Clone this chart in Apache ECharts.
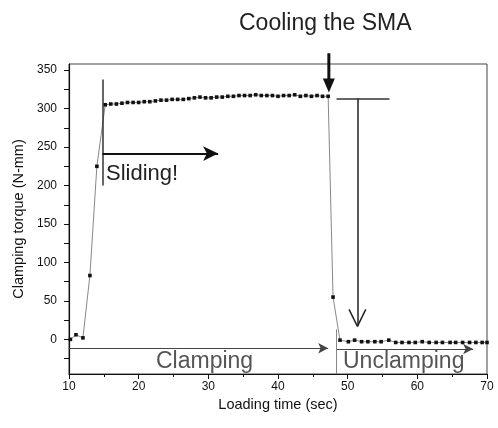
<!DOCTYPE html>
<html>
<head>
<meta charset="utf-8">
<script src="https://cdn.jsdelivr.net/npm/echarts@6/dist/echarts.min.js"></script>
<style>
  * { margin: 0; padding: 0; }
  body { background: #fff; }
</style>
</head>
<body>
<div id="chart" style="width: 498px; height: 428px;"></div>
<script>
// loading time (sec) and clamping torque (N-mm)
var rampTime = [10.2, 11, 12, 13, 14];
var rampTorque = [0, 6, 2, 83, 225];

var slideTime = [15.2, 16.0, 16.8, 17.6, 18.4, 19.2, 20.0, 20.8, 21.6, 22.4, 23.2, 24.0, 24.8, 25.6,
    26.4, 27.2, 28.0, 28.8, 29.6, 30.4, 31.2, 32.0, 32.8, 33.6, 34.4, 35.2, 36.0, 36.8, 37.6, 38.4,
    39.2, 40.0, 40.8, 41.6, 42.4, 43.2, 44.0, 44.8, 45.6, 46.4, 47.2];
var slideTorque = [305, 306, 306, 307, 308, 308, 308, 309, 309, 310, 311, 311, 312, 312,
    312, 313, 314, 315, 314, 314, 315, 315, 316, 316, 317, 317, 317, 318, 317, 317,
    317, 316, 317, 317, 318, 316, 317, 316, 317, 316, 316];

var releaseTime = [47.9, 48.9, 50.1, 51.0, 52.0, 52.9, 53.9, 54.8, 55.9, 56.9, 57.8, 58.8, 59.7,
    60.7, 61.7, 62.7, 63.6, 64.7, 65.5, 66.5, 67.5, 68.4, 69.3, 70];
var releaseTorque = [55, -1, -3, -1, -3, -3, -3, -3, -1, -4, -4, -4, -4,
    -3, -4, -4, -4, -4, -4, -4, -4, -4, -4, -4];

// axis ticks
var yLabels = [0, 50, 100, 150, 200, 250, 300, 350];
var yTicks = [-25, 0, 25, 50, 75, 100, 125, 150, 175, 200, 225, 250, 275, 300, 325, 350];

// annotation anchors in data units [time, torque]
var slideStart = [14.8, 241.5];
var slideEnd = [31.4, 241.5];
var slideBarTop = [14.8, 338];
var slideBarBottom = [14.8, 200];
var coolTop = [47.3, 372];
var coolTip = [47.3, 321];
var dropBarLeft = [48.4, 313];
var dropBarRight = [56, 313];
var dropTop = [51.4, 313];
var dropTip = [51.4, 17];
var vLeft = [50.2, 39];
var vRight = [52.6, 39];
var clampStart = [10, -11.5];
var clampEnd = [47.2, -11.5];
var unclampStart = [48.4, -12.5];
var unclampEnd = [68, -12.5];
var splitTop = [48.4, 13];
var splitBottom = [48.4, -45];

var points = [];
rampTime.forEach(function (t, i) { points.push([t, rampTorque[i]]); });
slideTime.forEach(function (t, i) { points.push([t, slideTorque[i]]); });
releaseTime.forEach(function (t, i) { points.push([t, releaseTorque[i]]); });

function seg(a, b, style, sym) {
    return [
        { coord: a, symbol: 'none', lineStyle: style },
        { coord: b, symbol: sym ? 'arrow' : 'none', symbolSize: sym || 0, lineStyle: style }
    ];
}

var font = '"Liberation Sans", Arial, sans-serif';

var option = {
    backgroundColor: '#fff',
    animation: false,
    title: {
        text: 'Cooling the SMA',
        left: 234,
        top: 7,
        textStyle: { fontFamily: font, fontSize: 23, fontWeight: 'normal', color: '#222' }
    },
    grid: {
        left: 69, right: 11, top: 64, bottom: 54,
        show: true, borderColor: '#444', borderWidth: 1
    },
    xAxis: {
        type: 'value',
        min: 10, max: 70, interval: 10,
        name: 'Loading time (sec)',
        nameLocation: 'middle',
        nameGap: 21,
        nameTextStyle: { fontFamily: font, fontSize: 14.5, color: '#111' },
        axisLine: { onZero: false, lineStyle: { color: '#111', width: 1.2 } },
        axisTick: { length: 5, lineStyle: { color: '#111' } },
        minorTick: { show: true, splitNumber: 2, length: 3, lineStyle: { color: '#111' } },
        axisLabel: { fontFamily: font, fontSize: 12, color: '#111', margin: 7 },
        splitLine: { show: false }
    },
    yAxis: {
        type: 'value',
        min: -45, max: 358,
        name: 'Clamping torque (N-mm)',
        nameLocation: 'middle',
        nameGap: 38,
        nameTextStyle: { fontFamily: font, fontSize: 14.5, color: '#111' },
        axisLine: { onZero: false, lineStyle: { color: '#111', width: 1.2 } },
        axisTick: { length: 5, customValues: yTicks, lineStyle: { color: '#111' } },
        axisLabel: { fontFamily: font, fontSize: 12, color: '#111', margin: 12, customValues: yLabels },
        splitLine: { show: false }
    },
    series: [
        {
            type: 'line',
            data: points,
            symbol: 'rect',
            symbolSize: 3.6,
            itemStyle: { color: '#111' },
            lineStyle: { color: '#888', width: 1 },
            clip: false,
            z: 3
        },
        {
            type: 'line',
            data: [],
            clip: false,
            markLine: {
                silent: true,
                label: { show: false },
                symbol: 'none',
                data: [
                    seg(slideBarTop, slideBarBottom, { color: '#333', width: 1.5, type: 'solid' }),
                    seg(slideStart, slideEnd, { color: '#111', width: 2, type: 'solid' }, [11, 15]),
                    seg(dropBarLeft, dropBarRight, { color: '#333', width: 1.5, type: 'solid' }),
                    seg(dropTop, dropTip, { color: '#222', width: 1.5, type: 'solid' }),
                    seg(vLeft, dropTip, { color: '#222', width: 1.5, type: 'solid' }),
                    seg(vRight, dropTip, { color: '#222', width: 1.5, type: 'solid' }),
                    seg(clampStart, clampEnd, { color: '#444', width: 1.2, type: 'solid' }, [8, 10]),
                    seg(unclampStart, unclampEnd, { color: '#444', width: 1.2, type: 'solid' }, [8, 10]),
                    seg(splitTop, splitBottom, { color: '#888', width: 1, type: 'solid' })
                ]
            }
        }
    ]
};

var myChart = echarts.init(document.getElementById('chart'));
myChart.setOption(option);

// the cooling arrow starts above the plot area, so place it through the axes here
var p0 = myChart.convertToPixel({ gridIndex: 0 }, coolTop);
var p1 = myChart.convertToPixel({ gridIndex: 0 }, coolTip);
myChart.setOption({
    graphic: [
        { type: 'text', left: 106, top: 163,
          style: { text: 'Sliding!', font: '22px ' + font, fill: '#222' } },
        { type: 'text', left: 156, top: 350,
          style: { text: 'Clamping', font: '23px ' + font, fill: '#555' } },
        { type: 'text', left: 343, top: 350,
          style: { text: 'Unclamping', font: '23px ' + font, fill: '#555' } },
        { type: 'line', z: 10,
          shape: { x1: p0[0], y1: p0[1], x2: p1[0], y2: p1[1] - 12 },
          style: { stroke: '#111', lineWidth: 3 } },
        { type: 'polygon', z: 10,
          shape: { points: [[p1[0] - 6, p1[1] - 14], [p1[0] + 6, p1[1] - 14], [p1[0], p1[1]]] },
          style: { fill: '#111' } }
    ]
});
</script>
</body>
</html>
